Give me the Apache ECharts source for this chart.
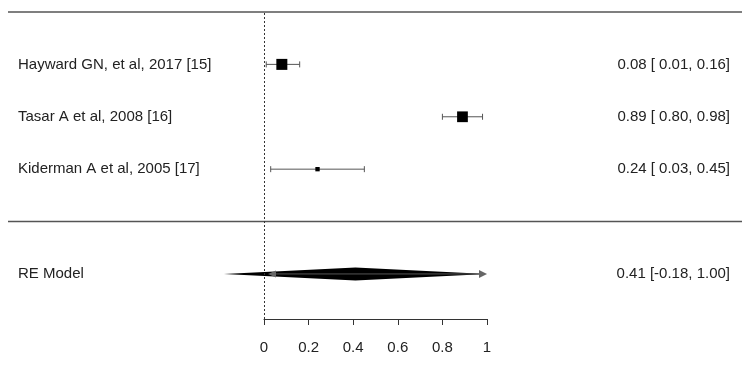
<!DOCTYPE html>
<html>
<head>
<meta charset="utf-8">
<script src="https://cdn.jsdelivr.net/npm/echarts@6/dist/echarts.min.js"></script>
<style>
  html, body { margin: 0; padding: 0; background: #fff; }
  #main { width: 750px; height: 370px; }
</style>
</head>
<body>
<div id="main"></div>
<script>
// studies, top to bottom
const studies = ['Hayward GN, et al, 2017 [15]', 'Tasar A et al, 2008 [16]', 'Kiderman A et al, 2005 [17]']
const estimates = [0.08, 0.89, 0.24]
const lowers = [0.01, 0.80, 0.03]
const uppers = [0.16, 0.98, 0.45]
const weights = [43, 42, 17] // relative weight -> square size
// random effects summary
const summaryLabel = 'RE Model'
const summaryEst = 0.41
const summaryLower = -0.18
const summaryUpper = 1.00
const xTicks = [0, 0.2, 0.4, 0.6, 0.8, 1]

// rows: 3,2,1 for studies, -1 for summary
const studyRows = studies.map((s, i) => studies.length - i)
const summaryRow = -1

const fmt = v => (v < 0 ? '' : ' ') + v.toFixed(2)
const leftText = {}
const rightText = {}
studies.forEach((s, i) => {
  leftText[studyRows[i]] = s
  rightText[studyRows[i]] = estimates[i].toFixed(2) + ' [' + fmt(lowers[i]) + ', ' + uppers[i].toFixed(2) + ']'
})
leftText[summaryRow] = summaryLabel
rightText[summaryRow] = summaryEst.toFixed(2) + ' [' + fmt(summaryLower).trim() + ', ' + summaryUpper.toFixed(2) + ']'
const labelRows = studyRows.concat([summaryRow])

const maxW = Math.max.apply(null, weights)
const textColor = '#222'
const font = '"Liberation Sans", Arial, sans-serif'
const fontSize = 15

const chart = echarts.init(document.getElementById('main'), null, { renderer: 'canvas' })

const option = {
  animation: false,
  backgroundColor: '#fff',
  grid: { left: 264, right: 263, top: 12, bottom: 51 },
  xAxis: {
    type: 'value',
    min: 0,
    max: 1,
    interval: 0.2,
    splitLine: { show: false },
    axisLine: { show: true, onZero: false, lineStyle: { color: '#333', width: 1 } },
    axisTick: { show: true, length: 6, lineStyle: { color: '#333' } },
    axisLabel: {
      color: textColor, fontSize: fontSize, fontFamily: font, margin: 21,
      formatter: v => String(Math.round(v * 10) / 10)
    }
  },
  yAxis: [
    {
      type: 'value',
      min: -1.86,
      max: 4,
      position: 'left',
      splitLine: { show: false },
      axisLine: { show: false },
      axisTick: { show: false },
      axisLabel: {
        customValues: labelRows,
        align: 'left',
        margin: 246,
        color: textColor, fontSize: fontSize, fontFamily: font,
        formatter: v => leftText[v] || ''
      }
    },
    {
      type: 'value',
      min: -1.86,
      max: 4,
      position: 'right',
      splitLine: { show: false },
      axisLine: { show: false },
      axisTick: { show: false },
      axisLabel: {
        customValues: labelRows,
        align: 'right',
        margin: 243,
        color: textColor, fontSize: fontSize, fontFamily: font,
        formatter: v => rightText[v] || ''
      }
    }
  ],
  series: [
    {
      // study squares with CI whiskers
      type: 'custom',
      clip: false,
      data: studies.map((s, i) => [estimates[i], lowers[i], uppers[i], studyRows[i], weights[i]]),
      renderItem: function(params, api) {
        const c = api.coord([api.value(0), api.value(3)])
        const lo = api.coord([api.value(1), api.value(3)])
        const hi = api.coord([api.value(2), api.value(3)])
        const size = Math.max(4, 11 * api.value(4) / maxW)
        const ln = { stroke: '#555', lineWidth: 1 }
        return {
          type: 'group',
          children: [
            { type: 'line', shape: { x1: lo[0], y1: c[1], x2: hi[0], y2: c[1] }, style: ln },
            { type: 'line', shape: { x1: lo[0], y1: c[1] - 3, x2: lo[0], y2: c[1] + 3 }, style: ln },
            { type: 'line', shape: { x1: hi[0], y1: c[1] - 3, x2: hi[0], y2: c[1] + 3 }, style: ln },
            { type: 'rect', shape: { x: c[0] - size / 2, y: c[1] - size / 2, width: size, height: size }, style: { fill: '#000' } }
          ]
        }
      },
      markLine: {
        silent: true,
        symbol: 'none',
        label: { show: false },
        lineStyle: { type: [2, 2], color: '#333', width: 1 },
        data: [{ xAxis: 0 }]
      }
    },
    {
      // summary diamond
      type: 'custom',
      clip: false,
      data: [[summaryEst, summaryLower, summaryUpper, summaryRow]],
      renderItem: function(params, api) {
        const c = api.coord([api.value(0), api.value(3)])
        const lo = api.coord([api.value(1), api.value(3)])
        const hi = api.coord([api.value(2), api.value(3)])
        const a0 = api.coord([0, api.value(3)])
        const a1 = api.coord([1, api.value(3)])
        const h = 6.5
        return {
          type: 'group',
          children: [
            { type: 'polygon', shape: { points: [[lo[0], c[1]], [c[0], c[1] - h], [hi[0], c[1]], [c[0], c[1] + h]] }, style: { fill: '#000' } },
            { type: 'line', shape: { x1: a0[0] + 6, y1: c[1], x2: a1[0] - 6, y2: c[1] }, style: { stroke: '#555', lineWidth: 1 } },
            { type: 'polygon', shape: { points: [[a0[0] + 4, c[1]], [a0[0] + 12, c[1] - 3.5], [a0[0] + 12, c[1] + 3.5]] }, style: { fill: '#666' } },
            { type: 'polygon', shape: { points: [[a1[0], c[1]], [a1[0] - 8, c[1] - 4], [a1[0] - 8, c[1] + 4]] }, style: { fill: '#666' } }
          ]
        }
      }
    }
  ]
}

chart.setOption(option)

// full-width separator lines at top and above the summary row
const yTop = chart.convertToPixel({ yAxisIndex: 0 }, 4)
const ySep = chart.convertToPixel({ yAxisIndex: 0 }, 0)
chart.setOption({
  graphic: [
    { type: 'line', silent: true, shape: { x1: 8, y1: yTop, x2: 742, y2: yTop }, style: { stroke: '#555', lineWidth: 1.5 } },
    { type: 'line', silent: true, shape: { x1: 8, y1: ySep, x2: 742, y2: ySep }, style: { stroke: '#555', lineWidth: 1.5 } }
  ]
})
</script>
</body>
</html>
